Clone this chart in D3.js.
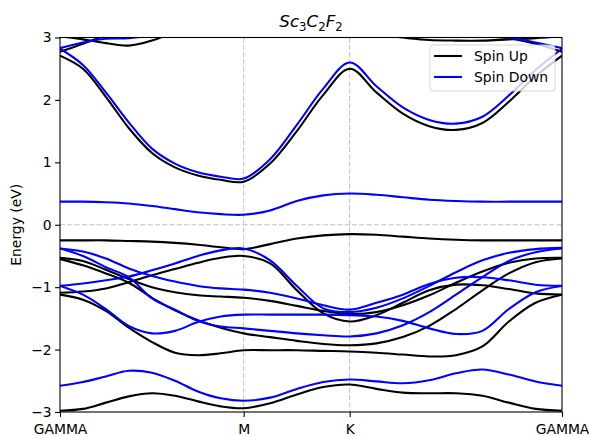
<!DOCTYPE html>
<html><head><meta charset="utf-8">
<script src="https://cdn.jsdelivr.net/npm/d3@7"></script>
<style>body{margin:0;background:#fff;} svg{display:block;font-family:"DejaVu Sans",sans-serif;}</style>
</head><body><svg id="c" width="589" height="436"></svg>
<script>
// k-path distances (GAMMA - M - K - GAMMA)
const kpts = [0,0.072,0.144,0.216,0.289,0.361,0.433,0.505,0.577,0.660,0.744,0.827,0.910,0.994,1.077,1.160,1.244,1.327,1.410,1.494,1.577];
const tickPos = [0,0.577,0.910,1.577];
const tickLabels = ["GAMMA","M","K","GAMMA"];
const yTicks = [-3,-2,-1,0,1,2,3];

// Spin up bands (eV)
const upDeep = [-2.98,-2.95,-2.85,-2.75,-2.70,-2.74,-2.83,-2.91,-2.94,-2.86,-2.72,-2.60,-2.56,-2.63,-2.69,-2.70,-2.70,-2.74,-2.85,-2.95,-2.98];
const upV5 = [-1.12,-1.20,-1.38,-1.65,-1.88,-2.05,-2.09,-2.06,-2.01,-2.01,-2.01,-2.02,-2.03,-2.05,-2.08,-2.11,-2.09,-1.95,-1.55,-1.25,-1.12];
const upV4 = [-1.09,-1.07,-1.02,-0.92,-0.81,-0.71,-0.61,-0.53,-0.50,-0.62,-1.05,-1.42,-1.55,-1.45,-1.25,-1.05,-0.96,-0.97,-1.03,-1.10,-1.12];
const upV3 = [-0.55,-0.65,-0.78,-0.93,-1.17,-1.37,-1.53,-1.65,-1.74,-1.80,-1.86,-1.91,-1.93,-1.90,-1.80,-1.62,-1.35,-1.05,-0.78,-0.60,-0.54];
const upV2 = [-0.53,-0.58,-0.72,-0.87,-1.00,-1.08,-1.13,-1.15,-1.17,-1.22,-1.30,-1.38,-1.43,-1.40,-1.29,-1.13,-0.93,-0.75,-0.61,-0.54,-0.53];
const upV1 = [-0.25,-0.25,-0.25,-0.26,-0.27,-0.29,-0.32,-0.36,-0.39,-0.31,-0.22,-0.17,-0.15,-0.16,-0.19,-0.22,-0.24,-0.25,-0.25,-0.25,-0.25];
const upC1 = [2.71,2.50,2.05,1.55,1.15,0.92,0.79,0.72,0.69,0.98,1.50,2.08,2.50,2.12,1.78,1.58,1.52,1.63,1.97,2.38,2.71];
const upC2 = [2.77,2.90,3.04,3.20,3.40,3.60,3.80,3.90,4.00,4.00,4.00,4.00,4.00,3.80,3.50,3.25,3.08,3.02,2.99,2.90,2.77];
const upC3 = [3.02,2.97,2.91,2.87,2.95,3.10,3.30,3.50,3.60,3.60,3.60,3.60,3.60,3.10,3.00,2.96,2.95,2.95,2.97,2.99,3.02];

// Spin down bands (eV)
const dnDeep = [-2.58,-2.52,-2.43,-2.34,-2.37,-2.50,-2.67,-2.78,-2.82,-2.77,-2.63,-2.52,-2.48,-2.51,-2.54,-2.49,-2.38,-2.32,-2.40,-2.51,-2.58];
const dnVd = [-0.98,-1.12,-1.35,-1.62,-1.74,-1.70,-1.56,-1.47,-1.44,-1.44,-1.44,-1.44,-1.45,-1.47,-1.54,-1.66,-1.75,-1.70,-1.35,-1.08,-0.98];
const dnVc = [-0.98,-0.94,-0.89,-0.83,-0.73,-0.62,-0.50,-0.41,-0.38,-0.57,-0.98,-1.34,-1.40,-1.33,-1.18,-0.98,-0.76,-0.57,-0.45,-0.39,-0.37];
const dnVb = [-0.38,-0.50,-0.68,-0.84,-1.18,-1.36,-1.54,-1.63,-1.66,-1.70,-1.74,-1.77,-1.79,-1.74,-1.61,-1.40,-1.12,-0.84,-0.58,-0.44,-0.38];
const dnVa = [-0.38,-0.43,-0.54,-0.70,-0.82,-0.91,-0.98,-1.02,-1.04,-1.09,-1.18,-1.29,-1.36,-1.25,-1.12,-0.95,-0.85,-0.84,-0.89,-0.96,-0.98];
const dnV0 = [0.37,0.37,0.36,0.34,0.30,0.25,0.20,0.17,0.16,0.23,0.38,0.47,0.50,0.48,0.44,0.40,0.38,0.37,0.37,0.37,0.37];
const dnC1 = [2.82,2.56,2.12,1.64,1.22,0.98,0.84,0.77,0.74,1.05,1.60,2.18,2.60,2.22,1.88,1.68,1.62,1.73,2.07,2.48,2.82];
const dnC2 = [2.83,2.92,2.98,2.99,3.05,3.20,3.40,3.60,3.70,3.70,3.70,3.70,3.70,3.60,3.40,3.25,3.12,3.05,3.00,2.92,2.83];

const upBands = [upDeep,upV5,upV4,upV3,upV2,upV1,upC1,upC2,upC3];
const dnBands = [dnDeep,dnVd,dnVc,dnVb,dnVa,dnV0,dnC1,dnC2];
const seriesNames = ["Spin Up","Spin Down"];
const seriesColors = ["#000000","#0000ff"];

const svg = d3.select("#c");
const L=60, R=562, T=37.5, B=412;
const x = d3.scaleLinear().domain([0,1.577]).range([L,R]);
const y = d3.scaleLinear().domain([-3,3]).range([B,T]);

svg.append("defs").append("clipPath").attr("id","clip")
  .append("rect").attr("x",L).attr("y",T).attr("width",R-L).attr("height",B-T);

// dashed guide lines
const g0 = svg.append("g");
tickPos.slice(1,3).forEach(k=>{
  g0.append("line").attr("x1",x(k)).attr("x2",x(k)).attr("y1",T).attr("y2",B)
    .attr("stroke","#c0c0c0").attr("stroke-width",1).attr("stroke-dasharray","5.1,2.2");
});
g0.append("line").attr("x1",L).attr("x2",R).attr("y1",y(0)).attr("y2",y(0))
  .attr("stroke","#c0c0c0").attr("stroke-width",1).attr("stroke-dasharray","5.1,2.2");

const line = d3.line().x((d,i)=>x(kpts[i])).y(d=>y(d)).curve(d3.curveCatmullRom.alpha(0.5));
const gb = svg.append("g").attr("clip-path","url(#clip)");
upBands.forEach(b=>gb.append("path").attr("d",line(b)).attr("fill","none").attr("stroke",seriesColors[0]).attr("stroke-width",2.1));
dnBands.forEach(b=>gb.append("path").attr("d",line(b)).attr("fill","none").attr("stroke",seriesColors[1]).attr("stroke-width",2.1));

// axes
const fs = 13.9;
const xAxis = d3.axisBottom(x).tickValues(tickPos).tickFormat((d,i)=>tickLabels[i]).tickSizeOuter(0).tickSize(4.9).tickPadding(3.5);
const gx = svg.append("g").attr("transform",`translate(0,${B})`).call(xAxis);
const yAxis = d3.axisLeft(y).tickValues(yTicks).tickFormat(d=>d<0?"\u2212"+Math.abs(d):String(d)).tickSizeOuter(0).tickSize(4.9).tickPadding(3.5);
const gy = svg.append("g").attr("transform",`translate(${L},0)`).call(yAxis);
[gx,gy].forEach(g=>{
  g.selectAll("text").attr("font-size",fs).attr("font-family","DejaVu Sans").attr("fill","#000");
  g.selectAll(".tick line").attr("stroke","#000").attr("stroke-width",1.1);
  g.select(".domain").remove();
});
gx.selectAll("text").attr("dy","0.95em");
svg.append("rect").attr("x",L).attr("y",T).attr("width",R-L).attr("height",B-T)
  .attr("fill","none").attr("stroke","#000").attr("stroke-width",1.1);

// y label
svg.append("text").attr("transform",`translate(21,${y(0)}) rotate(-90)`)
  .attr("text-anchor","middle").attr("font-size",fs).attr("fill","#000").text("Energy (eV)");

// title (mathtext style)
const t = svg.append("text").attr("x",(L+R)/2).attr("y",27).attr("text-anchor","middle").attr("font-size",16.7).attr("fill","#000");
const parts = [["Sc",0],["3",1],["C",0],["2",1],["F",0],["2",1]];
let prevSub=false;
parts.forEach(([s,sub])=>{
  const ts = t.append("tspan").text(s);
  if(sub){ ts.attr("font-size",11.7).attr("dy",prevSub?0:3.6); }
  else { ts.attr("font-style","italic").attr("dy",prevSub?-3.6:0); }
  prevSub=!!sub;
});

// legend
const lg = svg.append("g");
lg.append("rect").attr("x",430).attr("y",45).attr("width",125).attr("height",46).attr("rx",2.8)
  .attr("fill","#fff").attr("fill-opacity",0.8).attr("stroke","#cccccc").attr("stroke-opacity",0.8).attr("stroke-width",1);
seriesNames.forEach((n,i)=>{
  const yy = 56 + i*21;
  lg.append("line").attr("x1",434).attr("x2",462).attr("y1",yy).attr("y2",yy).attr("stroke",seriesColors[i]).attr("stroke-width",2.1);
  lg.append("text").attr("x",474).attr("y",yy).attr("dy","0.36em").attr("font-size",fs).attr("fill","#000").text(n);
});
</script></body></html>
